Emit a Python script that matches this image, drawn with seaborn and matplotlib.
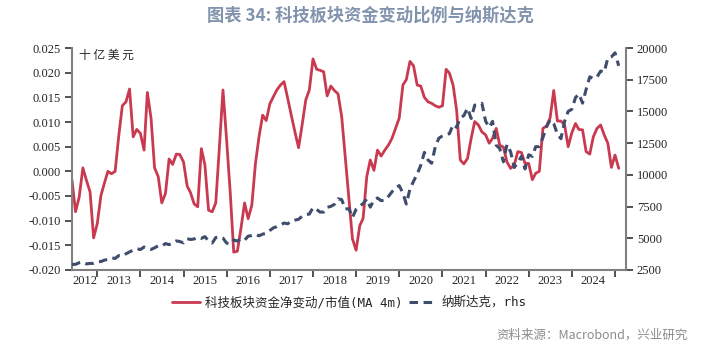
import pandas as pd
import matplotlib
matplotlib.use("Agg")
import matplotlib.pyplot as plt
import matplotlib.dates as mdates
import seaborn as sns

# monthly, Jun 2012 - Feb 2025
start_month = "2012-06-01"

flow_ratio = [
    -0.0018, -0.0082, -0.0052, 0.0007, -0.0018, -0.0042, -0.0135,
    -0.0106, -0.0049, -0.0025, 0.0000, -0.0005, 0.0000, 0.0070, 0.0133, 0.0141, 0.0167, 0.0070, 0.0085,
    0.0077, 0.0043, 0.0160, 0.0108, 0.0007, -0.0011, -0.0064, -0.0045, 0.0025, 0.0014, 0.0035, 0.0034,
    0.0019, -0.0030, -0.0043, -0.0066, -0.0072, 0.0046, 0.0013, -0.0079, -0.0082, -0.0064, 0.0050, 0.0165,
    0.0063, -0.0045, -0.0164, -0.0162, -0.0116, -0.0064, -0.0096, -0.0069, 0.0016, 0.0070, 0.0114, 0.0103,
    0.0137, 0.0152, 0.0165, 0.0175, 0.0182, 0.0148, 0.0114, 0.0080, 0.0048, 0.0094, 0.0145, 0.0165,
    0.0228, 0.0207, 0.0205, 0.0202, 0.0153, 0.0173, 0.0164, 0.0157, 0.0111, 0.0030, -0.0052, -0.0137,
    -0.0160, -0.0110, -0.0096, -0.0011, 0.0023, 0.0002, 0.0043,
    0.0031, 0.0043, 0.0053, 0.0067, 0.0087,
    0.0108, 0.0175, 0.0186, 0.0223, 0.0214, 0.0175, 0.0173, 0.0150, 0.0141, 0.0138, 0.0133, 0.0130,
    0.0133, 0.0207, 0.0199, 0.0175, 0.0124, 0.0023, 0.0015, 0.0026, 0.0067, 0.0101, 0.0094, 0.0080,
    0.0074, 0.0057, 0.0067, 0.0087, 0.0053, 0.0049, 0.0019, 0.0006, 0.0013, 0.0040, 0.0038, 0.0016,
    0.0016, -0.0017, -0.0004, 0.0000, 0.0087, 0.0092, 0.0108, 0.0164, 0.0102, 0.0102, 0.0094, 0.0050,
    0.0078, 0.0097, 0.0085, 0.0084, 0.0040, 0.0035, 0.0070, 0.0087, 0.0094, 0.0074, 0.0057, 0.0008,
    0.0033, 0.0006,
]

nasdaq = [
    2935, 2940, 3067, 3116, 2977, 3010, 3020,
    3142, 3160, 3268, 3329, 3456, 3403, 3626, 3590, 3771, 3920, 4060, 4177,
    4104, 4308, 4199, 4115, 4243, 4408, 4370, 4580, 4493, 4631, 4792, 4736,
    4635, 4964, 4901, 4941, 5070, 4987, 5128, 4777, 4620, 5054, 5109, 5007,
    4614, 4558, 4870, 4775, 4948, 4843, 5162, 5213, 5312, 5189, 5324, 5383,
    5615, 5825, 5912, 6048, 6199, 6140, 6348, 6429, 6496, 6728, 6874, 6903,
    7411, 7273, 7063, 7066, 7442, 7510, 7672, 8110, 8046, 7306, 7331, 6635,
    7282, 7533, 7729, 8095, 7453, 8006, 8175, 7963, 7999, 8292, 8665, 8973,
    9151, 8567, 7700, 8890, 9490, 10059, 10745, 11775, 11168, 10912, 12199, 12888,
    13071, 13192, 13247, 13962, 13749, 14504, 14673, 15259, 14448, 15498, 15538, 15645,
    14240, 13751, 14221, 12335, 12081, 11029, 12391, 11816, 10576, 10988, 11468, 10466,
    11585, 11456, 12222, 12227, 12935, 13788, 14346, 14035, 13219, 12851, 14226, 15011,
    15164, 16092, 16379, 15658, 16735, 17733, 17599, 17714, 18189, 18095, 19218, 19311,
    19627, 18600,
]

dates = pd.date_range(start_month, periods=len(nasdaq), freq="MS")
df = pd.DataFrame({"date": dates, "ratio": flow_ratio, "nasdaq": nasdaq})

sns.set_style("ticks")
plt.rcParams["font.family"] = ["Noto Sans CJK SC", "DejaVu Sans"]

red = "#c9394f"
navy = "#3f4c6c"
serif = "Liberation Serif"

fig = plt.figure(figsize=(7.2, 3.51), dpi=100)
ax = fig.add_axes([0.1, 0.231, 0.769, 0.632])
ax2 = ax.twinx()

sns.lineplot(data=df, x="date", y="ratio", ax=ax, color=red, linewidth=2.0,
             label="科技板块资金净变动/市值(MA 4m)", legend=False)
sns.lineplot(data=df, x="date", y="nasdaq", ax=ax2, color=navy, linewidth=2.2,
             label="纳斯达克，rhs", legend=False)
ax2.lines[0].set_dashes((2.8, 1.8))

ax.set_ylim(-0.020, 0.025)
ax.set_yticks([-0.020 + 0.005 * i for i in range(10)])
ax.set_yticklabels([f"{-0.020 + 0.005 * i:.3f}" for i in range(10)], family=serif, fontsize=9)
ax2.set_ylim(2500, 20000)
ax2.set_yticks(range(2500, 20001, 2500))
ax2.set_yticklabels([str(v) for v in range(2500, 20001, 2500)], family=serif, fontsize=9)

xmin, xmax = pd.Timestamp("2012-06-01"), pd.Timestamp("2025-04-01")
ax.set_xlim(xmin, xmax)
ax.set_xlabel("")
ax.set_ylabel("")
ax2.set_xlabel("")
ax2.set_ylabel("")

ax.xaxis.set_major_locator(mdates.YearLocator())
ax.xaxis.set_major_formatter(plt.NullFormatter())
label_years = list(range(2012, 2025))
label_pos = []
for y in label_years:
    lo = max(pd.Timestamp(f"{y}-01-01"), xmin)
    hi = pd.Timestamp(f"{y + 1}-01-01")
    label_pos.append(mdates.date2num(lo + (hi - lo) / 2))
ax.set_xticks(label_pos, minor=True)
ax.set_xticklabels([str(y) for y in label_years], minor=True, family=serif, fontsize=9)
ax.tick_params(axis="x", which="minor", length=0, pad=4)
ax.tick_params(axis="x", which="major", length=5, width=1.2, color="#333333")
ax.tick_params(axis="y", length=5, width=1.2, color="#333333", pad=3)
ax2.tick_params(axis="y", length=5, width=1.2, color="#333333", pad=3)

for a in (ax, ax2):
    a.spines["top"].set_visible(False)
    for s in ("left", "right", "bottom"):
        a.spines[s].set_color("#808080")
        a.spines[s].set_linewidth(1.5)
ax.spines["right"].set_visible(False)
ax2.spines["left"].set_visible(False)
ax2.spines["bottom"].set_visible(False)

ax.text(0.012, 0.995, "十 亿 美 元", transform=ax.transAxes, fontsize=8.5, va="top", ha="left")

fig.text(0.515, 0.955, "图表 34: 科技板块资金变动比例与纳斯达克", ha="center", va="center",
         fontsize=12.4, fontweight="bold", color="#8193ad")

h1, l1 = ax.get_legend_handles_labels()
h2, l2 = ax2.get_legend_handles_labels()
fig.legend(h1 + h2, l1 + l2, loc="center", bbox_to_anchor=(0.485, 0.138), ncol=2,
           frameon=False, handlelength=2.2, columnspacing=0.5, handletextpad=0.4,
           prop={"family": ["DejaVu Sans Mono", "Noto Sans CJK SC"], "size": 9})

fig.text(0.955, 0.045, "资料来源：Macrobond，兴业研究", ha="right", va="center",
         fontsize=9, color="#8c8c8c")

fig.savefig("out.png", dpi=100)
